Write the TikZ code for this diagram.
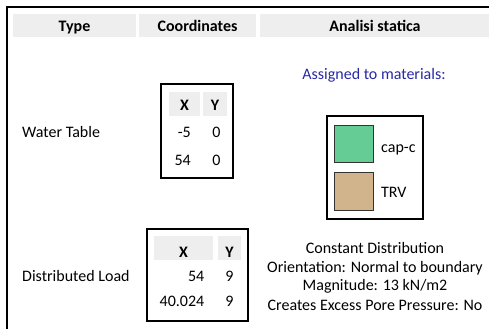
\documentclass[tikz,border=0pt]{standalone}
\usepackage{fontspec}
\setmainfont{Carlito}
\definecolor{hdrgray}{RGB}{238,238,238}
\definecolor{asgblue}{RGB}{40,40,165}
\definecolor{capgreen}{RGB}{102,204,150}
\definecolor{trvtan}{RGB}{210,180,140}
\tikzset{
  txt/.style={inner sep=0pt, anchor=base, font=\fontsize{16}{19}\selectfont},
  txtl/.style={txt, anchor=base west},
  txtr/.style={txt, anchor=base east},
  hdr/.style={txt, font=\fontsize{16}{19}\selectfont\bfseries},
  cell/.style={fill=hdrgray, draw=none},
  frame/.style={line width=2pt},
  swatch/.style={draw=black!80, line width=1pt},
}
\begin{document}
\begin{tikzpicture}[x=1pt,y=-1pt]
\useasboundingbox (0,0) rectangle (489,329);
% outer frame
\draw[frame] (489,6.8) -- (7,6.8) -- (7,329);
% header cells
\fill[cell] (13,14) rectangle (136,37);
\fill[cell] (139,14) rectangle (256,37);
\fill[cell] (260,14) rectangle (489,37);
\node[hdr] (hType) at (74.5,31.5) {Type};
\node[hdr] (hCoord) at (197.5,31.5) {Coordinates};
\node[hdr] (hAna) at (375,31.5) {Analisi statica};
% Water table row
\node[txtl] (wt) at (22,137) {Water Table};
\draw[frame] (161,84) rectangle (233,178);
\fill[cell] (169,92) rectangle (200,116);
\fill[cell] (203,92) rectangle (227,116);
\node[hdr] (wtX) at (184.5,110) {X};
\node[hdr] (wtY) at (215,110) {Y};
\node[txtr] (wtx1) at (191,137) {-5};
\node[txt] (wty1) at (216.5,137) {0};
\node[txtr] (wtx2) at (191,165) {54};
\node[txt] (wty2) at (216.5,165) {0};
% Assigned materials
\node[txt, text=asgblue] (asg) at (374,79) {Assigned to materials:};
\draw[frame] (327,116) rectangle (423,219);
\draw[swatch, fill=capgreen] (334,125) rectangle (373,162);
\draw[swatch, fill=trvtan] (334,172) rectangle (373,210);
\node[txtl] (capc) at (381,152) {cap-c};
\node[txtl] (trv) at (381,197) {TRV};
% Distributed load row
\node[txtl] (dl) at (22,281) {Distributed Load};
\draw[frame] (147,229) rectangle (248,321);
\fill[cell] (154,236) rectangle (213,260);
\fill[cell] (218,236) rectangle (241,260);
\node[hdr] (dlX) at (183.5,257) {X};
\node[hdr] (dlY) at (229.5,257) {Y};
\node[txtr] (dlx1) at (204.5,281) {54};
\node[txt] (dly1) at (229.5,281) {9};
\node[txtr] (dlx2) at (204.5,306) {40.024};
\node[txt] (dly2) at (229.5,306) {9};
\node[txt] (l1) at (375,253) {Constant Distribution};
\node[txt] (l2) at (375,272) {Orientation: Normal to boundary};
\node[txt] (l3) at (375,290.7) {Magnitude: 13 kN/m2};
\node[txt] (l4) at (375,310.7) {Creates Excess Pore Pressure: No};
\end{tikzpicture}
\end{document}
